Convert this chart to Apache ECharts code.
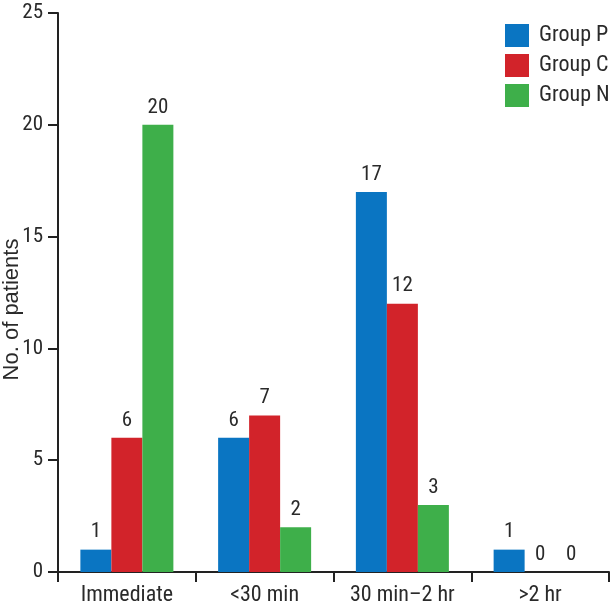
<!DOCTYPE html>
<html><head><meta charset="utf-8">
<script src="https://cdn.jsdelivr.net/npm/echarts@6/dist/echarts.min.js"></script>
<style>html,body{margin:0;padding:0;background:#fff}#c{width:615px;height:604px}</style>
</head><body><div id="c"></div>
<script>
const categories = ['Immediate', '<30 min', '30 min\u20132 hr', '>2 hr'];
const groupP = [1, 6, 17, 1];
const groupC = [6, 7, 12, 0];
const groupN = [20, 2, 3, 0];
const seriesNames = ['Group P', 'Group C', 'Group N'];
const yTicks = {min: 0, max: 25, interval: 5};
const colors = ['#0a75c2', '#d2232a', '#3eaf4a'];
const FONT = '"Liberation Sans Narrow", "Roboto Condensed", "DejaVu Sans Condensed", sans-serif';
const chart = echarts.init(document.getElementById('c'));
const mk = (name, data, color) => ({
  name, type: 'bar', data, barWidth: 31, barGap: '0%',
  itemStyle: {color},
  label: {show: true, position: 'top', distance: 7, color: '#2a2a2a', fontSize: 21, fontFamily: FONT}
});
chart.setOption({
  animation: false,
  textStyle: {fontFamily: FONT},
  grid: {left: 58, right: 6, top: 13, bottom: 32, containLabel: false, outerBoundsMode: 'none'},
  legend: {
    left: 500, top: 19, orient: 'vertical', itemWidth: 24, itemHeight: 23, itemGap: 7,
    icon: 'rect', align: 'left',
    textStyle: {fontSize: 22, color: '#2a2a2a', fontFamily: FONT, padding: [0,0,0,5]},
    data: seriesNames
  },
  xAxis: {
    type: 'category', data: categories,
    axisLine: {lineStyle: {color: '#222', width: 2}},
    axisTick: {show: true, length: 10, lineStyle: {color: '#222', width: 2}},
    axisLabel: {fontSize: 22, color: '#2a2a2a', margin: 12, fontFamily: FONT}
  },
  yAxis: {
    type: 'value', min: yTicks.min, max: yTicks.max, interval: yTicks.interval,
    name: 'No. of patients', nameLocation: 'middle', nameGap: 35, nameMoveOverlap: false,
    nameTextStyle: {fontSize: 22, color: '#2a2a2a', fontFamily: '"Liberation Sans", Arial, sans-serif', padding: [0, 34, 0, 0]},
    splitLine: {show: false},
    axisLine: {show: true, lineStyle: {color: '#222', width: 2}},
    axisTick: {show: true, length: 10, lineStyle: {color: '#222', width: 2}},
    axisLabel: {fontSize: 21, color: '#2a2a2a', margin: 15, fontFamily: FONT}
  },
  series: [mk(seriesNames[0], groupP, colors[0]), mk(seriesNames[1], groupC, colors[1]), mk(seriesNames[2], groupN, colors[2])]
});
</script></body></html>
